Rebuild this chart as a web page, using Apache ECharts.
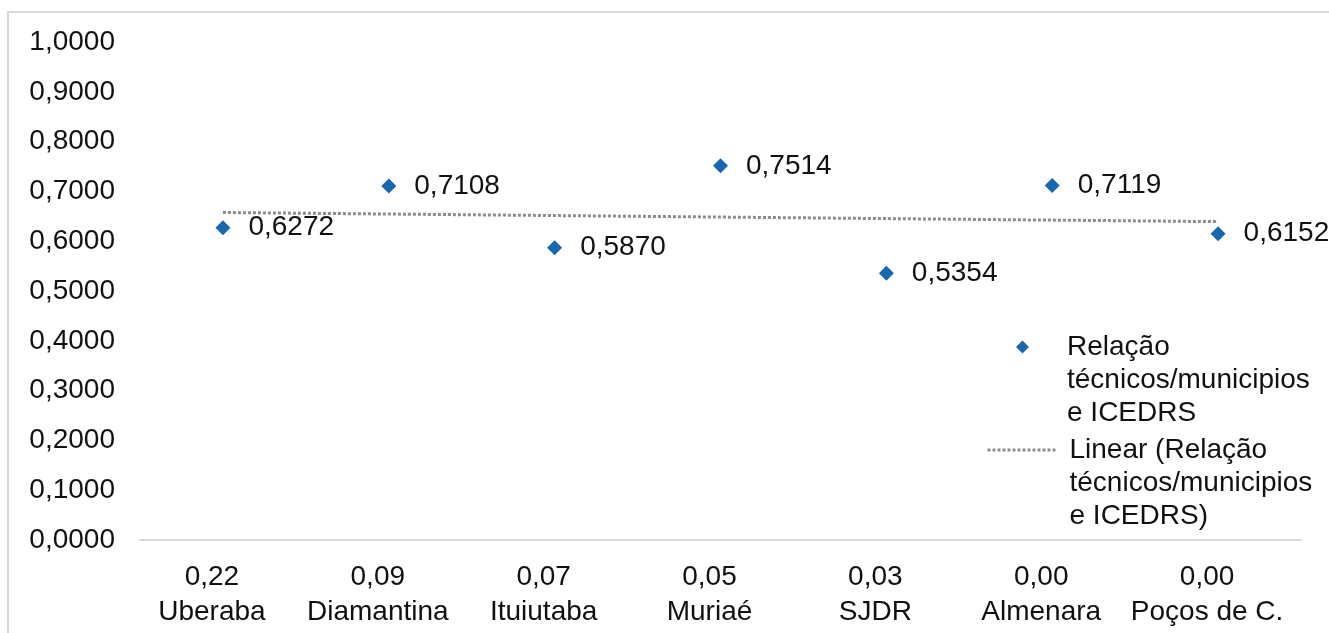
<!DOCTYPE html>
<html>
<head>
<meta charset="utf-8">
<script src="https://cdn.jsdelivr.net/npm/echarts@6/dist/echarts.min.js"></script>
<style>
  html, body { margin: 0; padding: 0; background: #fff; }
  #chart { width: 1329px; height: 633px; }
</style>
</head>
<body>
<div id="chart"></div>
<script>
// Municipalities (x categories) and their technician/municipality ratio
const municipios = ['Uberaba', 'Diamantina', 'Ituiutaba', 'Muriaé', 'SJDR', 'Almenara', 'Poços de C.'];
const relacaoTecnicos = [0.22, 0.09, 0.07, 0.05, 0.03, 0.00, 0.00];
// ICEDRS index per municipality
const icedrs = [0.6272, 0.7108, 0.5870, 0.7514, 0.5354, 0.7119, 0.6152];
// Linear trend line, values at the first and last category
const tendencia = [0.6576, 0.6393];
// Y axis range
const yMin = 0, yMax = 1, yStep = 0.1;

const FONT = '"Liberation Sans", Arial, sans-serif';
const TXT = '#111';
const FS = 28;
const LH = 33;

const nomeSerie = 'Relação\ntécnicos/municipios\ne ICEDRS';
const nomeLinear = 'Linear (Relação\ntécnicos/municipios\ne ICEDRS)';

const fmt4 = v => v.toFixed(4).replace('.', ',');
const fmt2 = v => v.toFixed(2).replace('.', ',');

const xLabels = municipios.map((m, i) => fmt2(relacaoTecnicos[i]) + '\n' + m);

// Legend icons sit beside the first line of each three-line entry:
// two blank lines above the text put its first line at the icon's height.
const legendFormatter = name => ' \n \n' + name;

const chart = echarts.init(document.getElementById('chart'), null, { renderer: 'canvas' });

chart.setOption({
  animation: false,
  backgroundColor: '#fff',
  textStyle: { fontFamily: FONT },
  graphic: [{
    type: 'rect',
    shape: { x: 8, y: 12, width: 1340, height: 660 },
    style: { fill: 'none', stroke: '#d9d9d9', lineWidth: 2 },
    silent: true, z: -1
  }],
  grid: { left: 140, right: 28, top: 42, bottom: 93, containLabel: false },
  legend: [{
    orient: 'vertical', left: 1016, top: 347 - 2.5 * LH, padding: 0,
    itemWidth: 13, itemHeight: 13,
    data: [{ name: nomeSerie, icon: 'diamond' }],
    formatter: legendFormatter,
    textStyle: { fontFamily: FONT, fontSize: FS, color: TXT, lineHeight: LH, padding: [0, 0, 0, 33] }
  }, {
    orient: 'vertical', left: 986, top: 450 - 2.5 * LH, padding: 0,
    itemWidth: 70, itemHeight: 14,
    data: [nomeLinear],
    formatter: legendFormatter,
    itemStyle: { opacity: 0 },
    lineStyle: { color: '#8c8c8c', width: 3, type: [3, 2] },
    textStyle: { fontFamily: FONT, fontSize: FS, color: TXT, lineHeight: LH, padding: [0, 0, 0, 7] }
  }],
  xAxis: {
    type: 'category',
    data: xLabels,
    boundaryGap: true,
    axisLine: { show: true, lineStyle: { color: '#d9d9d9', width: 2 } },
    axisTick: { show: false },
    splitLine: { show: false },
    axisLabel: {
      color: TXT, fontFamily: FONT, fontSize: FS, lineHeight: 35,
      margin: 20, interval: 0, padding: [0, 22, 0, 0]
    }
  },
  yAxis: {
    type: 'value',
    min: yMin, max: yMax, interval: yStep,
    axisLine: { show: false },
    axisTick: { show: false },
    splitLine: { show: false },
    axisLabel: {
      color: TXT, fontFamily: FONT, fontSize: FS, margin: 25,
      formatter: v => fmt4(v)
    }
  },
  series: [{
    name: nomeSerie,
    type: 'scatter',
    symbol: 'diamond',
    symbolSize: 15,
    itemStyle: { color: '#1767b1', opacity: 1 },
    data: icedrs,
    label: {
      show: true, position: 'right', distance: 18,
      color: TXT, fontFamily: FONT, fontSize: FS,
      formatter: p => fmt4(p.value)
    },
    z: 3
  }, {
    name: nomeLinear,
    type: 'line',
    symbol: 'none',
    data: [[0, tendencia[0]], [municipios.length - 1, tendencia[1]]],
    lineStyle: { color: '#8c8c8c', width: 3, type: [3, 2] },
    itemStyle: { color: '#8c8c8c' },
    z: 2
  }]
});
</script>
</body>
</html>
